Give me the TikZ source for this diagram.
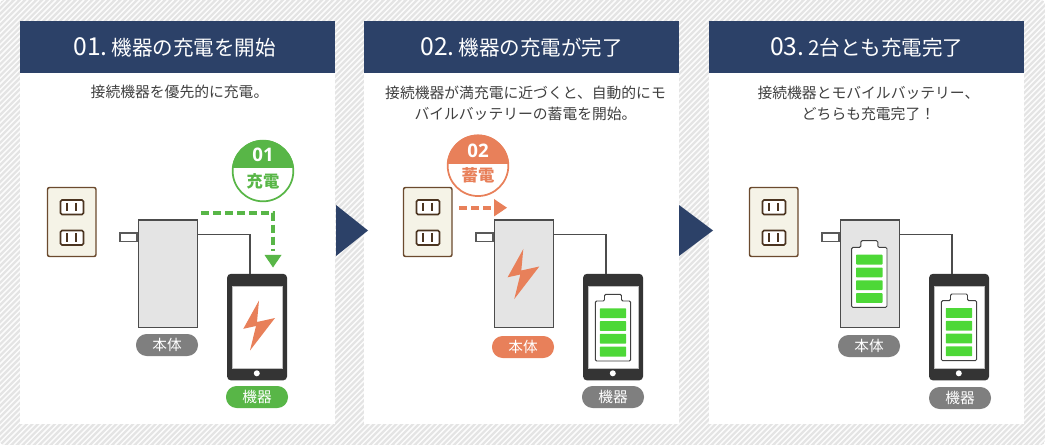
\documentclass[tikz,border=0pt]{standalone}
\usepackage{fontspec}
\setmainfont{Open Sans}
\newfontfamily\cjk{Noto Sans CJK JP}
\usetikzlibrary{positioning, calc}

\definecolor{navy}{HTML}{2C4168}
\definecolor{leaf}{HTML}{58B647}
\definecolor{coral}{HTML}{E8805A}
\definecolor{plate}{HTML}{F5F3E7}
\definecolor{brownline}{HTML}{6B4A2E}
\definecolor{cellgreen}{HTML}{4DD837}
\definecolor{hatchgrey}{HTML}{E4E4E4}
\definecolor{darkphone}{HTML}{343434}
\definecolor{pillgrey}{HTML}{7F7F7F}
\definecolor{bodygrey}{HTML}{E4E4E4}

\newcommand{\headtext}[2]{\raisebox{-1.6pt}{\fontsize{18.5}{20}\selectfont #1\hspace{3pt}\fontsize{15.4}{17}\selectfont #2}}

\begin{document}
\begin{tikzpicture}[
        x=0.75pt,
        y=-0.75pt,
        panel/.style={
            fill=white,
            draw=none,
            anchor=north west,
            inner sep=0pt,
            minimum width=236.25pt,
            minimum height=302.25pt
        },
        headbar/.style={
            fill=navy,
            anchor=north west,
            inner sep=0pt,
            minimum width=236.25pt,
            minimum height=39pt,
            text=white,
            font=\cjk
        },
        caption/.style={
            align=center,
            text=black!75,
            font=\fontsize{11.1}{15.8}\selectfont\cjk,
            inner sep=0pt
        },
        chargerbody/.style={
            draw=black!70,
            fill=bodygrey,
            line width=1pt,
            anchor=north west,
            inner sep=0pt,
            minimum width=44.5pt,
            minimum height=80.5pt
        },
        plugpin/.style={
            draw=black!65,
            fill=white,
            line width=1pt,
            anchor=east,
            inner sep=0pt,
            minimum width=12.75pt,
            minimum height=6.5pt
        },
        phonebody/.style={
            fill=darkphone,
            rounded corners=3pt,
            anchor=north west,
            inner sep=0pt,
            minimum width=45pt,
            minimum height=80pt
        },
        screenpane/.style={
            fill=white,
            draw=black!25,
            anchor=north west,
            inner sep=0pt,
            minimum width=37.5pt,
            minimum height=62pt
        },
        homekey/.style={
            circle,
            fill=white,
            inner sep=0pt,
            minimum size=4.5pt
        },
        pill/.style={
            rounded corners=8pt,
            inner sep=0pt,
            minimum width=46.5pt,
            minimum height=16.5pt,
            text=white,
            font=\fontsize{11}{12}\selectfont\cjk
        },
        badge/.style={
            circle,
            fill=white,
            line width=1.3pt,
            inner sep=0pt,
            minimum size=45.5pt
        },
        badgenum/.style={
            text=white,
            inner sep=0pt,
            font=\fontsize{14}{15}\selectfont\bfseries
        },
        badgeword/.style={
            inner sep=0pt,
            font=\fontsize{12.2}{13}\selectfont\cjk\bfseries
        },
        cable/.style={draw=black!70, line width=1pt},
        flowline/.style={dash pattern=on 6pt off 3pt, line width=3pt},
        outlet/.pic={
            \draw[brownline, fill=plate, rounded corners=1.5pt, line width=1.1pt]
                (0,0) rectangle (48.5,69);
            \foreach \sy in {12.5,43}{
                \draw[brownline!70!black, fill=white, rounded corners=1.2pt, line width=1.2pt]
                    (13,\sy) rectangle (36,\sy+14.5);
                \foreach \sx in {19.5,28.3}
                    \draw[brownline!70!black, line width=1.9pt] (\sx,\sy+3) -- (\sx,\sy+11.5);
            }
        },
        bolt/.pic={
            \fill[coral] (0,0) -- (-15.7,28.3) -- (-3,25.5) -- (-9,50) -- (16,17.5) -- (-2,21.5) -- cycle;
        },
        battery/.pic={
            \draw[black!75, fill=white, rounded corners=1pt, line width=0.7pt]
                (-17.7,6.7) -- (-8.5,6.7) -- (-8.5,0) -- (8.5,0) -- (8.5,6.7) -- (17.7,6.7)
                -- (17.7,66.7) -- (-17.7,66.7) -- cycle;
            \foreach \cy in {14,26.8,39.6,52.4}
                \fill[cellgreen, rounded corners=0.5pt] (-13.2,\cy) rectangle (13.2,\cy+9.8);
        }
    ]

    % hatched ground
    \useasboundingbox (0,0) rectangle (1045,445);
    \fill[white] (0,0) rectangle (1045,445);
    \begin{scope}
        \clip[rounded corners=3pt] (0,0) rectangle (1045,445);
        \fill[hatchgrey] (0,0) rectangle (1045,445);
        \foreach \k in {0,5.6,...,1494}
            \draw[white!90!hatchgrey, line width=1.1pt] (\k,0) -- (\k-445,445);
    \end{scope}

    % panels
    \node[panel] (panelA) at (20,21) {};
    \node[panel] (panelB) at (364,21) {};
    \node[panel] (panelC) at (709,21) {};

    \node[headbar] (headA) at (20,21) {\headtext{01.}{機器の充電を開始}\kern4.5pt};
    \node[headbar] (headB) at (364,21) {\headtext{02.}{機器の充電が完了}};
    \node[headbar] (headC) at (709,21) {\headtext{03.}{2台とも充電完了}};

    \node[caption] (textA) at (179.5,92.3) {接続機器を優先的に充電。};
    \node[caption] (textB) at (525.5,103) {接続機器が満充電に近づくと、自動的にモ\\バイルバッテリーの蓄電を開始。};
    \node[caption] (textC) at (868.5,103) {接続機器とモバイルバッテリー、\\どちらも充電完了！};

    % arrows between panels
    \fill[navy] (336,205) -- (368,230.5) -- (336,256) -- cycle;
    \fill[navy] (679,205) -- (713,230.5) -- (679,256) -- cycle;

    % outlets
    \pic at (47.5,187.5) {outlet};
    \pic at (403.5,187.5) {outlet};
    \pic at (749.5,187.5) {outlet};

    % first panel
    \node[chargerbody] (chargerA) at (137.5,219.5) {};
    \node[plugpin] (plugA) at (137.5,237.2) {};
    \node[phonebody] (phoneA) at (226.8,273.5) {};
    \node[screenpane] (screenA) at (231.5,285.5) {};
    \node[homekey] (homeA) at (256.8,373.3) {};
    \pic at (259,300.5) {bolt};
    \node[pill, fill=pillgrey] (tagbodyA) at (167,345) {本体};
    \node[pill, fill=leaf] (tagphoneA) at (257,397) {機器};
    \draw[cable] (chargerA.east |- 0,234.7) -| (phoneA.north -| 250,0);

    % second panel
    \node[chargerbody] (chargerB) at (493.5,219.5) {};
    \node[plugpin] (plugB) at (493.5,237.2) {};
    \node[phonebody] (phoneB) at (582.8,273.5) {};
    \node[screenpane] (screenB) at (587.5,285.5) {};
    \node[homekey] (homeB) at (612.8,373.3) {};
    \pic at (523.3,249) {bolt};
    \pic at (613,294.3) {battery};
    \node[pill, fill=coral] (tagbodyB) at (523,347) {本体};
    \node[pill, fill=pillgrey] (tagphoneB) at (613,397) {機器};
    \draw[cable] (chargerB.east |- 0,234.7) -| (phoneB.north -| 606,0);

    % third panel
    \node[chargerbody] (chargerC) at (839.5,219.5) {};
    \node[plugpin] (plugC) at (839.5,237.2) {};
    \node[phonebody] (phoneC) at (928.8,273.5) {};
    \node[screenpane] (screenC) at (933.5,285.5) {};
    \node[homekey] (homeC) at (958.8,373.3) {};
    \pic at (869.3,240.7) {battery};
    \pic at (959,294) {battery};
    \node[pill, fill=pillgrey] (tagbodyC) at (869,346) {本体};
    \node[pill, fill=pillgrey] (tagphoneC) at (960,398) {機器};
    \draw[cable] (chargerC.east |- 0,234.7) -| (phoneC.north -| 952,0);

    % charge flow
    \coordinate (flowstart) at (201,212.7);
    \coordinate (flowcorner) at (273,212.7);
    \coordinate (flowend) at (273,250.7);
    \draw[leaf, flowline] (flowstart) -- (flowcorner) -- (flowend);
    \fill[leaf] (264.5,255) -- (281.5,255) -- (273,267.5) -- cycle;

    \coordinate (storestart) at (459,207.7);
    \coordinate (storeend) at (491,207.7);
    \draw[coral, flowline] (storestart) -- (storeend);
    \fill[coral] (494,199) -- (507,207.7) -- (494,216.5) -- cycle;

    % badges
    \node[badge, draw=leaf] (badgeA) at (263,171) {};
    \begin{scope}
        \clip (263,171) circle[radius=31];
        \fill[leaf] (230,138) rectangle (296,168.5);
    \end{scope}
    \node[badgenum] (numA) at (263,155) {01};
    \node[badgeword, text=leaf] (wordA) at (263,181) {充電};

    \node[badge, draw=coral] (badgeB) at (478,165.7) {};
    \begin{scope}
        \clip (478,165.7) circle[radius=31];
        \fill[coral] (445,132) rectangle (511,163.7);
    \end{scope}
    \node[badgenum] (numB) at (478,150.7) {02};
    \node[badgeword, text=coral] (wordB) at (478,175.5) {蓄電};

    \end{tikzpicture}
\end{document}
